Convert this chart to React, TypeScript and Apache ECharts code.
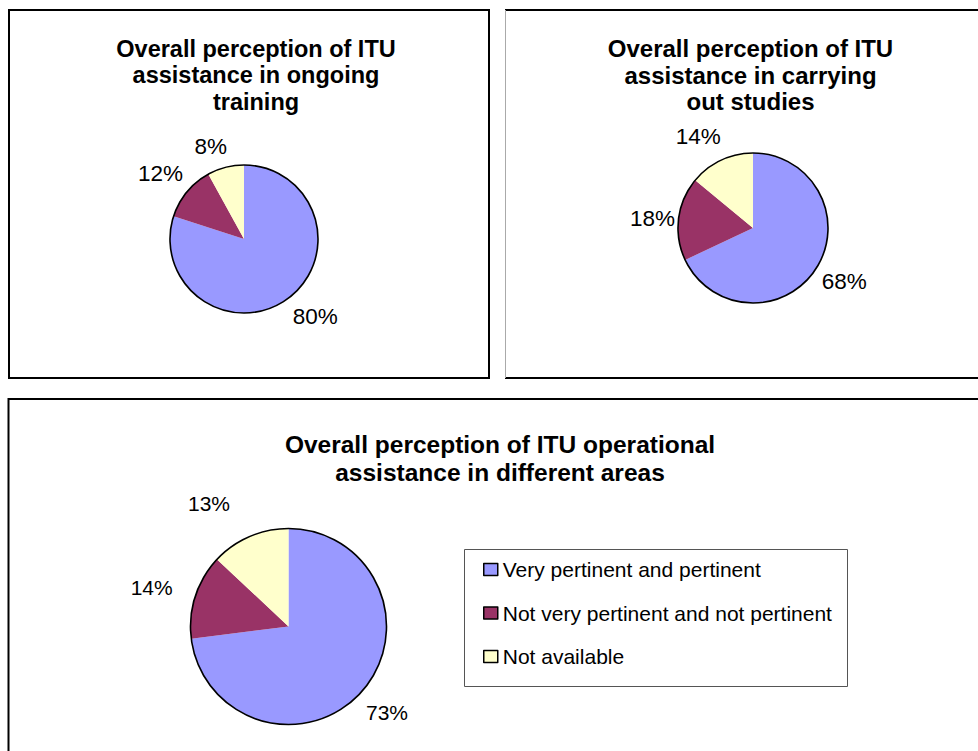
import React, { useEffect, useRef } from "react";
import * as echarts from "echarts";

const categories = [
  "Very pertinent and pertinent",
  "Not very pertinent and not pertinent",
  "Not available",
];
const trainingValues = [80, 12, 8];
const studiesValues = [68, 18, 14];
const operationalValues = [73, 14, 13];
const titleTraining = "Overall perception of ITU\nassistance in ongoing\ntraining";
const titleStudies = "Overall perception of ITU\nassistance in carrying\nout studies";
const titleOperational = "Overall perception of ITU operational\nassistance in different areas";

const colors = ["#9999FF", "#993366", "#FFFFCC"];
const FONT = "'Liberation Sans', Arial, Helvetica, sans-serif";

// label placement (labelLine length / length2) per slice
const lines1 = [[21.8, -7.6], [28, -17.6], [22, -6.9]];
const lines2 = [[25.2, -15.9], [-0.8, 4.4], [25.9, -10.7]];
const lines3 = [[32.5, -20.4], [28.2, -4.2], [36, 5.3]];

function pieSeries(values: number[], center: number[], radius: number, lines: number[][], fontSize: number) {
  return [
    {
      type: "pie",
      center,
      radius,
      startAngle: 90,
      clockwise: true,
      avoidLabelOverlap: false,
      silent: true,
      emphasis: { disabled: true },
      itemStyle: { borderWidth: 0 },
      label: {
        show: true,
        position: "outside",
        formatter: "{c}%",
        color: "#000",
        fontSize,
        fontFamily: FONT,
        distanceToLabelLine: 0,
      },
      labelLine: { show: false },
      data: values.map((v, i) => ({
        name: categories[i],
        value: v,
        itemStyle: { color: colors[i] },
        labelLine: { show: false, length: lines[i][0], length2: lines[i][1] },
      })),
    },
    {
      type: "pie",
      center,
      radius,
      silent: true,
      emphasis: { disabled: true },
      label: { show: false },
      labelLine: { show: false },
      itemStyle: { color: "transparent", borderColor: "#000", borderWidth: 1.6 },
      data: [{ value: 1, name: "" }],
      z: 5,
    },
  ];
}

export default function App() {
  const ref = useRef<HTMLDivElement>(null);
  useEffect(() => {
    if (!ref.current) return;
    const chart = echarts.init(ref.current, undefined, { renderer: "svg" });
    chart.setOption({
      animation: false,
      backgroundColor: "#fff",
      legend: {
        orient: "vertical",
        left: 478,
        top: 554,
        itemWidth: 14,
        itemHeight: 12,
        itemGap: 22.5,
        icon: "rect",
        selectedMode: false,
        data: categories,
        textStyle: { fontSize: 21, fontFamily: FONT, color: "#000" },
        itemStyle: { borderColor: "#000", borderWidth: 1.5 },
      },
      graphic: [
        { type: "rect", shape: { x: 9, y: 10, width: 480, height: 368 }, style: { fill: "none", stroke: "#000", lineWidth: 2 }, silent: true },
        { type: "line", shape: { x1: 505, y1: 10, x2: 980, y2: 10 }, style: { stroke: "#000", lineWidth: 2 }, silent: true },
        { type: "line", shape: { x1: 505, y1: 378, x2: 980, y2: 378 }, style: { stroke: "#000", lineWidth: 2 }, silent: true },
        { type: "line", shape: { x1: 505.5, y1: 10, x2: 505.5, y2: 378 }, style: { stroke: "#aaa", lineWidth: 1 }, silent: true },
        { type: "line", shape: { x1: 8, y1: 399, x2: 980, y2: 399 }, style: { stroke: "#000", lineWidth: 2 }, silent: true },
        { type: "line", shape: { x1: 8.5, y1: 398, x2: 8.5, y2: 760 }, style: { stroke: "#000", lineWidth: 2 }, silent: true },
        { type: "rect", shape: { x: 464.5, y: 549.5, width: 383, height: 137 }, style: { fill: "none", stroke: "#555", lineWidth: 1 }, silent: true },
        {
          type: "text", x: 256, y: 35.5, silent: true,
          style: { text: titleTraining, textAlign: "center", textVerticalAlign: "top", font: `bold 23.5px ${FONT}`, lineHeight: 26.5, fill: "#000" },
        },
        {
          type: "text", x: 750.5, y: 35.5, silent: true,
          style: { text: titleStudies, textAlign: "center", textVerticalAlign: "top", font: `bold 24px ${FONT}`, lineHeight: 26.5, fill: "#000" },
        },
        {
          type: "text", x: 500, y: 430.7, silent: true,
          style: { text: titleOperational, textAlign: "center", textVerticalAlign: "top", font: `bold 24.5px ${FONT}`, lineHeight: 28, fill: "#000" },
        },
      ],
      series: [
        ...pieSeries(trainingValues, [244, 239], 74, lines1, 22.5),
        ...pieSeries(studiesValues, [753, 228], 75, lines2, 22.5),
        ...pieSeries(operationalValues, [288.5, 626.5], 98, lines3, 21),
      ],
    });
    return () => chart.dispose();
  }, []);
  return (
    <div
      ref={ref}
      style={{ position: "absolute", left: 0, top: 0, width: 978, height: 751 }}
    />
  );
}
